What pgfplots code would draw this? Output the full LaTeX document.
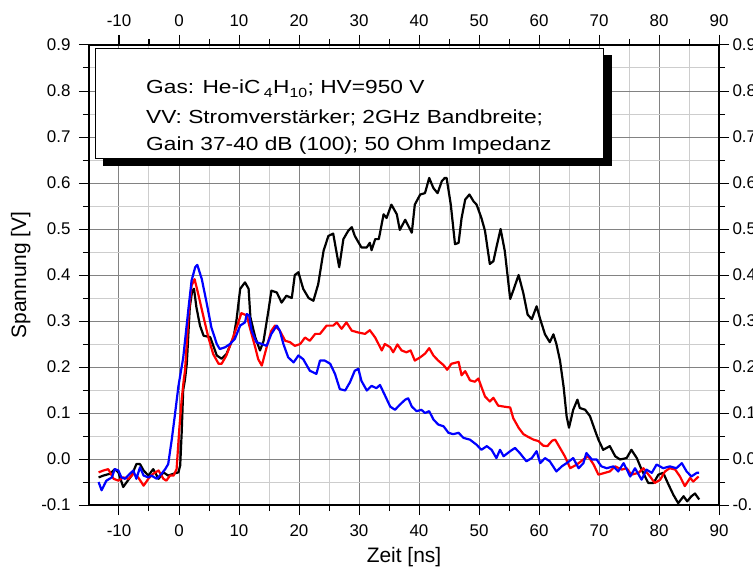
\documentclass[border=0pt]{standalone}
\usepackage{pgfplots}
\pgfplotsset{compat=1.18}
\usepackage{fontspec}
\setmainfont{Liberation Sans}
\newfontfamily\boxfont[FakeStretch=1.2]{Liberation Sans}

\definecolor{majgrid}{RGB}{130,130,130}
\definecolor{mingrid}{RGB}{205,205,205}

\pgfplotsset{
  common/.style={
    width=630bp, height=460bp, scale only axis,
    xmin=-15, xmax=90, ymin=-0.1, ymax=0.9,
    xtick={-10,0,...,90}, ytick={-0.1,0,...,0.9},
    minor x tick num=1, minor y tick num=1,
    tick align=outside,
    major tick length=10bp, minor tick length=6bp,
    every tick/.style={black, line width=1bp},
    axis line style={line width=1.2bp},
    /pgf/number format/assume math mode=true,
    /pgf/number format/.cd, fixed, fixed zerofill, precision=1, /pgfplots/.cd,
    xticklabel={\pgfmathprintnumber[fixed,precision=0]{\tick}},
    tick label style={font=\fontsize{17}{20}\selectfont},
  }
}

\begin{document}
\begin{tikzpicture}
\begin{axis}[common,
  name=ax,
  grid=both,
  major grid style={majgrid, line width=1bp},
  minor grid style={mingrid, line width=1bp},
  xlabel={Zeit [ns]}, ylabel={Spannung [V]},
  label style={font=\fontsize{21}{24}\selectfont},
  xticklabel style={yshift=-6bp},
  yticklabel style={xshift=-5bp},
  xlabel style={yshift=-4bp},
  ylabel style={yshift=4bp},
  every axis plot/.append style={line width=2.2bp, line join=round},
  clip=true,
]
\addplot[black] coordinates {
(-13.4,-0.04) (-12.6,-0.036) (-11.5,-0.032) (-10.7,-0.022) (-10.1,-0.029) (-9.3,-0.061) (-8.7,-0.05) (-7.9,-0.036) (-7.1,-0.011) (-6.5,-0.011) (-5.9,-0.025) (-5.1,-0.036) (-4.3,-0.022) (-3.4,-0.043) (-2.6,-0.029) (-1.8,-0.036) (-0.9,-0.032) (-0.1,-0.029) (0.2,-0.014) (0.45,0.058) (0.7,0.15) (1.0,0.173) (1.3,0.207) (1.8,0.33) (2.2,0.366) (2.5,0.37) (2.9,0.33) (3.5,0.29) (4.1,0.268) (5.2,0.265) (6.3,0.225) (7.1,0.218) (7.9,0.228) (9.1,0.265) (9.6,0.304) (10.2,0.37) (11,0.384) (11.6,0.37) (11.9,0.308) (12.7,0.265) (13.5,0.236) (14.1,0.257) (14.9,0.322) (15.4,0.366) (16.3,0.362) (17.1,0.34) (17.9,0.355) (18.8,0.35) (19.3,0.4) (19.9,0.406) (20.7,0.37) (21.6,0.35) (22.4,0.344) (23.2,0.38) (24.1,0.453) (24.9,0.485) (25.7,0.49) (26.3,0.446) (26.7,0.417) (27.4,0.478) (28.2,0.496) (28.8,0.504) (29.3,0.485) (30.4,0.46) (31.3,0.46) (31.8,0.47) (32.1,0.454) (32.7,0.478) (33.3,0.478) (34.1,0.532) (34.6,0.524) (35.4,0.553) (36.3,0.532) (36.8,0.498) (37.7,0.52) (38.8,0.492) (39.3,0.553) (40.2,0.575) (41.0,0.578) (41.7,0.611) (42.4,0.589) (43.1,0.578) (43.8,0.604) (44.3,0.611) (44.6,0.611) (45.3,0.553) (46.0,0.467) (46.6,0.47) (47.1,0.524) (47.7,0.564) (48.4,0.575) (49.1,0.56) (49.6,0.553) (50.4,0.524) (51.0,0.496) (51.8,0.424) (52.4,0.43) (52.9,0.46) (53.6,0.5) (54.3,0.452) (55.2,0.348) (55.7,0.366) (56.6,0.4) (57.4,0.36) (58.1,0.314) (58.8,0.304) (59.6,0.332) (60.2,0.304) (61.0,0.271) (61.8,0.254) (62.4,0.271) (62.9,0.25) (63.5,0.214) (64.1,0.157) (64.6,0.093) (65.0,0.068) (65.7,0.107) (66.4,0.129) (66.8,0.111) (67.7,0.107) (68.5,0.093) (69.2,0.067) (69.9,0.042) (70.7,0.02) (71.8,0.028) (72.7,0.006) (73.5,-0.001) (74.6,0.002) (75.4,0.02) (76.3,0.002) (77.1,-0.023) (78.2,-0.052) (79.1,-0.052) (79.9,-0.034) (80.7,-0.03) (81.6,-0.056) (82.4,-0.078) (83.2,-0.096) (84.1,-0.081) (84.7,-0.092) (85.4,-0.081) (86.0,-0.075) (86.7,-0.088)
};
\addplot[red] coordinates {
(-13.4,-0.029) (-12.6,-0.025) (-11.8,-0.022) (-10.9,-0.043) (-10.1,-0.047) (-9.3,-0.04) (-8.4,-0.043) (-7.6,-0.032) (-6.8,-0.04) (-5.9,-0.058) (-5.1,-0.043) (-4.3,-0.032) (-3.4,-0.025) (-2.6,-0.043) (-2.1,-0.047) (-1.5,-0.036) (-0.9,-0.036) (-0.4,-0.022) (0.05,0.065) (0.45,0.13) (0.8,0.173) (1.0,0.192) (1.6,0.315) (2.1,0.377) (2.6,0.391) (3.2,0.359) (4.1,0.308) (4.9,0.264) (5.7,0.228) (6.6,0.207) (7.1,0.207) (7.9,0.225) (8.8,0.257) (9.6,0.286) (10.4,0.317) (11.3,0.312) (11.8,0.286) (12.7,0.243) (13.2,0.217) (13.8,0.203) (14.3,0.228) (14.9,0.257) (15.4,0.279) (16.0,0.29) (16.8,0.279) (17.7,0.257) (18.5,0.254) (19.3,0.246) (20.2,0.25) (21.0,0.264) (21.8,0.257) (22.7,0.272) (23.5,0.272) (24.6,0.29) (25.7,0.29) (26.3,0.297) (27.1,0.283) (27.9,0.297) (28.8,0.279) (29.9,0.275) (31.0,0.272) (31.8,0.28) (32.7,0.264) (33.8,0.236) (34.3,0.25) (35.2,0.243) (35.7,0.232) (36.4,0.249) (37.1,0.236) (37.9,0.232) (38.6,0.236) (39.3,0.214) (40.2,0.221) (41.0,0.229) (41.7,0.241) (42.4,0.225) (43.2,0.214) (44.1,0.204) (44.7,0.194) (45.4,0.207) (46.6,0.211) (47.1,0.182) (47.7,0.191) (48.5,0.171) (49.3,0.168) (49.9,0.175) (50.4,0.157) (51.0,0.136) (51.8,0.125) (52.4,0.133) (53.2,0.116) (54.1,0.114) (55.2,0.112) (55.7,0.089) (56.6,0.068) (57.4,0.054) (58.2,0.048) (59.1,0.042) (59.9,0.039) (60.7,0.029) (61.4,0.028) (62.2,0.04) (62.7,0.042) (63.5,0.024) (64.3,0.006) (65.2,-0.02) (66.3,-0.012) (67.4,-0.001) (68.2,0.006) (69.1,-0.012) (69.9,-0.034) (71.0,-0.03) (71.8,-0.027) (72.7,-0.016) (73.8,-0.023) (74.6,-0.02) (75.4,-0.034) (76.6,-0.03) (77.4,-0.02) (78.5,-0.038) (79.3,-0.052) (80.2,-0.045) (81.0,-0.027) (81.8,-0.02) (82.7,-0.023) (83.5,-0.038) (84.3,-0.059) (85.2,-0.041) (85.7,-0.049) (86.6,-0.038)
};
\addplot[blue] coordinates {
(-13.4,-0.05) (-12.9,-0.068) (-12.1,-0.047) (-11.2,-0.04) (-10.7,-0.022) (-10.1,-0.025) (-9.6,-0.04) (-9.0,-0.043) (-8.2,-0.032) (-7.6,-0.025) (-7.1,-0.043) (-6.5,-0.018) (-5.9,-0.036) (-5.1,-0.04) (-4.6,-0.036) (-3.7,-0.043) (-2.9,-0.032) (-2.3,-0.022) (-1.8,-0.011) (-1.2,0.043) (-0.7,0.094) (-0.1,0.158) (0.7,0.22) (1.6,0.33) (2.1,0.388) (2.7,0.417) (3.05,0.422) (3.8,0.391) (4.6,0.34) (5.4,0.286) (6.3,0.25) (6.8,0.239) (7.7,0.243) (8.5,0.25) (9.3,0.261) (10.2,0.29) (11.0,0.297) (11.3,0.315) (11.7,0.312) (12.1,0.279) (12.9,0.254) (13.8,0.25) (14.6,0.246) (15.4,0.272) (16.3,0.29) (16.8,0.279) (17.4,0.25) (18.2,0.221) (19.1,0.21) (19.9,0.225) (20.7,0.217) (21.8,0.192) (22.9,0.185) (23.5,0.214) (24.3,0.214) (25.2,0.207) (26.0,0.185) (26.8,0.152) (27.7,0.149) (28.5,0.167) (29.3,0.192) (29.9,0.196) (30.4,0.17) (31.3,0.149) (32.1,0.159) (32.9,0.154) (33.5,0.161) (34.3,0.139) (35.2,0.114) (36.0,0.107) (36.8,0.118) (37.7,0.129) (38.2,0.132) (38.8,0.114) (39.6,0.104) (40.4,0.107) (41.0,0.1) (41.7,0.104) (42.4,0.086) (43.2,0.075) (44.1,0.071) (44.9,0.057) (45.7,0.054) (46.6,0.057) (47.4,0.046) (48.5,0.042) (49.6,0.031) (50.4,0.02) (51.3,0.028) (52.1,0.02) (52.9,0.002) (53.5,0.02) (54.1,0.006) (55.2,0.017) (56.0,0.024) (56.8,0.013) (57.9,-0.005) (58.8,0.002) (59.6,0.017) (60.2,-0.009) (61.0,0.002) (61.8,-0.005) (62.9,-0.027) (63.8,-0.016) (64.6,-0.009) (65.7,0.002) (66.6,-0.02) (67.4,-0.009) (67.9,0.013) (68.8,-0.001) (69.6,-0.001) (70.4,-0.016) (71.3,-0.02) (72.4,-0.016) (73.2,-0.027) (74.1,-0.009) (75.2,-0.038) (76.0,-0.02) (77.1,-0.045) (77.9,-0.023) (78.8,-0.03) (79.6,-0.012) (80.7,-0.02) (81.8,-0.016) (82.9,-0.02) (83.8,-0.009) (84.6,-0.027) (85.4,-0.038) (86.3,-0.03) (86.7,-0.03)
};
% text box with drop shadow
\fill[black] (axis cs:-12.67,0.6366) rectangle (axis cs:72.13,0.878);
\draw[fill=white, line width=0.8bp] (axis cs:-14,0.654) rectangle (axis cs:70.8,0.8935);
\begin{scope}[every node/.style={anchor=base west, inner sep=0pt, font=\boxfont\fontsize{19}{22}\selectfont}]
\node at (axis cs:-5.5,0.7935) {Gas: He-iC\,\textsubscript{4}H\textsubscript{10}; HV=950 V};
\node at (axis cs:-5.5,0.7283) {VV: Stromverst\"arker; 2GHz Bandbreite;};
\node at (axis cs:-5.5,0.6696) {Gain 37-40 dB (100); 50 Ohm Impedanz};
\end{scope}
\end{axis}
% second axis: tick labels on top and right
\begin{axis}[common,
  axis x line*=top, axis y line*=right,
  xticklabel pos=upper, yticklabel pos=right,
  xticklabel style={yshift=5bp},
  ytick style={draw=none},
  minor ytick={},
]
\end{axis}
\pgfresetboundingbox
\path[use as bounding box] ([shift={(-89bp,-67bp)}]ax.south west) rectangle ([shift={(34bp,45bp)}]ax.north east);
\end{tikzpicture}
\end{document}
